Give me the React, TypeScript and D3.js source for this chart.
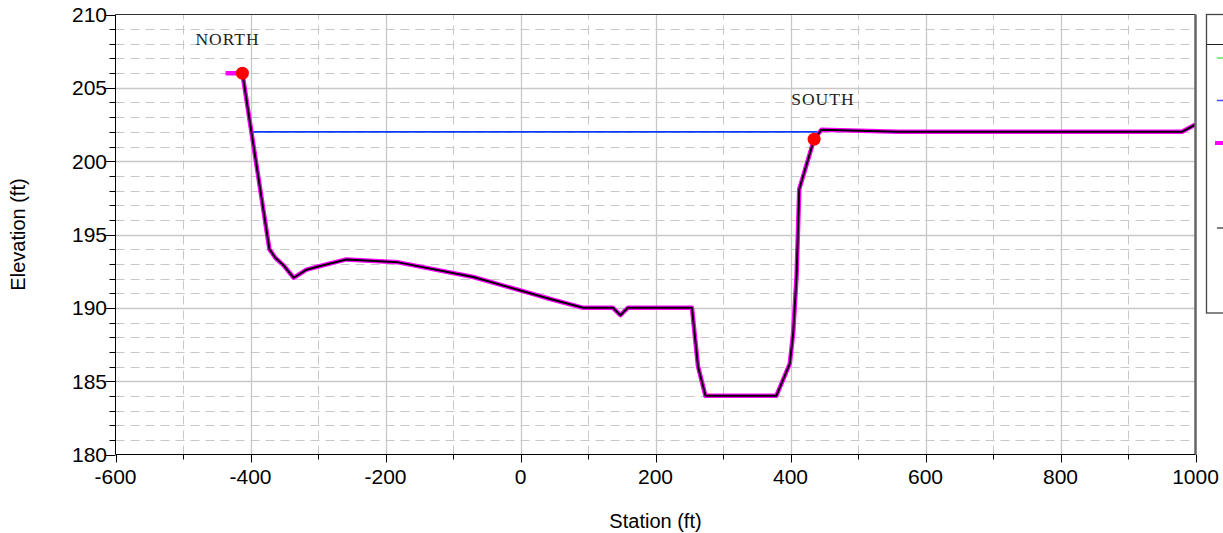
import React from 'react';
import * as d3 from 'd3';

// Ground profile (station ft, elevation ft)
const groundStations = [-437, -412, -372, -363, -351, -336, -317, -301, -258, -181, -70, 14, 44, 93, 137, 148, 159, 254, 263, 274, 379, 399, 404, 409, 413, 435, 446, 560, 980, 1000];
const groundElevations = [206, 206, 194, 193.4, 192.9, 192.05, 192.6, 192.8, 193.3, 193.1, 192.1, 191.0, 190.6, 190, 190, 189.5, 190, 190, 186, 184, 184, 186.2, 188.3, 192.2, 198.1, 201.5, 202.15, 202.0, 202.0, 202.5];

// Water surface
const wsStations = [-399, 440];
const wsElevations = [202, 202];

// Bank stations
const bankStations = [-412, 435];
const bankElevations = [206, 201.5];

// Text annotations
const sectionLabels = ['NORTH', 'SOUTH'];
const sectionLabelStations = [-434, 448];
const sectionLabelElevations = [207.95, 203.8];

// Axes
const xTicks = [-600, -400, -200, 0, 200, 400, 600, 800, 1000];
const yTicks = [180, 185, 190, 195, 200, 205, 210];
const xTitle = 'Station (ft)';
const yTitle = 'Elevation (ft)';

// Legend (visible part only)
const legendColors = ['#33dd33', '#4a4aff', '#ff00ff', '#555555'];
const legendSlots = [0, 1, 2, 4];
const legendWidths = [1.2, 1.5, 4, 1.5];

const SANS = '"Liberation Sans", Arial, sans-serif';
const SERIF = '"Liberation Serif", "Times New Roman", serif';

export default function App() {
  const W = 1223, H = 533;
  const L = 115.5, R = 1195.5, T = 14.5, B = 454.5;
  const x = d3.scaleLinear().domain([-600, 1000]).range([L, R]);
  const y = d3.scaleLinear().domain([180, 210]).range([B, T]);

  const groundPts: [number, number][] = groundStations.map((s, i) => [s, groundElevations[i]]);
  const wsPts: [number, number][] = wsStations.map((s, i) => [s, wsElevations[i]]);
  const line = d3.line<[number, number]>().x(d => x(d[0])).y(d => y(d[1]));

  const minorX = d3.range(-600, 1001, 100).filter(v => Math.abs(v % 200) !== 0);
  const majorX = xTicks.filter(v => v !== -600 && v !== 1000);
  const minorY = d3.range(180, 211, 1).filter(v => v % 5 !== 0);
  const majorY = yTicks.filter(v => v !== 180 && v !== 210);

  const grid = '#c8c8c8';

  return (
    <svg width={W} height={H} style={{ position: 'absolute', left: 0, top: 0, background: '#fff' }}>
      <defs>
        <clipPath id="plotClip">
          <rect x={L} y={T} width={R - L} height={B - T} />
        </clipPath>
      </defs>
      <rect x={0} y={0} width={W} height={H} fill="#fff" />

      {/* minor grid */}
      {minorY.map(v => (
        <line key={'my' + v} x1={L} x2={R} y1={Math.round(y(v)) + 0.5} y2={Math.round(y(v)) + 0.5}
          stroke={grid} strokeWidth={1} strokeDasharray="9,6" />
      ))}
      {minorX.map(v => (
        <line key={'mx' + v} x1={Math.round(x(v)) + 0.5} x2={Math.round(x(v)) + 0.5} y1={B} y2={T}
          stroke={grid} strokeWidth={1} strokeDasharray="9,6" />
      ))}
      {/* major grid */}
      {majorY.map(v => (
        <line key={'gy' + v} x1={L} x2={R} y1={Math.round(y(v)) + 0.5} y2={Math.round(y(v)) + 0.5}
          stroke={grid} strokeWidth={1.3} />
      ))}
      {majorX.map(v => (
        <line key={'gx' + v} x1={Math.round(x(v)) + 0.5} x2={Math.round(x(v)) + 0.5} y1={B} y2={T}
          stroke={grid} strokeWidth={1.3} />
      ))}

      <g clipPath="url(#plotClip)">
        <path d={line(wsPts) || ''} fill="none" stroke="#0a3cff" strokeWidth={1.6} />
        <path d={line(groundPts) || ''} fill="none" stroke="#ff00ff" strokeWidth={4.5} strokeLinejoin="round" />
        <path d={line(groundPts.slice(1)) || ''} fill="none" stroke="#000" strokeWidth={2} strokeLinejoin="round" />
        {bankStations.map((s, i) => (
          <circle key={'b' + i} cx={x(s)} cy={y(bankElevations[i])} r={6.5} fill="#ff0000" />
        ))}
      </g>

      {sectionLabels.map((t, i) => (
        <text key={t} x={x(sectionLabelStations[i])} y={y(sectionLabelElevations[i])} textAnchor="middle"
          fontFamily={SERIF} fontSize={17.5} letterSpacing={1} fill="#222">{t}</text>
      ))}

      {/* frame */}
      <line x1={L} x2={R} y1={T} y2={T} stroke="#333" strokeWidth={1} />
      <line x1={R} x2={R} y1={T} y2={B} stroke="#666" strokeWidth={2.5} />
      <line x1={L} x2={L} y1={T} y2={B} stroke="#000" strokeWidth={1} />
      <line x1={L} x2={R} y1={B} y2={B} stroke="#000" strokeWidth={1} />

      {/* y ticks */}
      {d3.range(180, 211, 1).map(v => (
        <line key={'yt' + v} x1={L - (v % 5 === 0 ? 10 : 6)} x2={L} y1={Math.round(y(v)) + 0.5} y2={Math.round(y(v)) + 0.5}
          stroke="#000" strokeWidth={1} />
      ))}
      {yTicks.map(v => (
        <text key={'yl' + v} x={107} y={y(v)} dy="0.36em" textAnchor="end" fontFamily={SANS} fontSize={21} fill="#000">{v}</text>
      ))}
      {/* x ticks */}
      {d3.range(-600, 1001, 100).map(v => (
        <line key={'xt' + v} x1={Math.round(x(v)) + 0.5} x2={Math.round(x(v)) + 0.5} y1={B} y2={B + (v % 200 === 0 ? 8 : 5)}
          stroke="#000" strokeWidth={1} />
      ))}
      {xTicks.map(v => (
        <text key={'xl' + v} x={x(v)} y={484} textAnchor="middle" fontFamily={SANS} fontSize={21} fill="#000">{v}</text>
      ))}

      <text x={(L + R) / 2} y={528} textAnchor="middle" fontFamily={SANS} fontSize={20} fill="#000">{xTitle}</text>
      <text transform={`translate(25, ${(T + B) / 2}) rotate(-90)`} textAnchor="middle" fontFamily={SANS} fontSize={20} fill="#000">{yTitle}</text>

      {/* legend box (partially visible) */}
      <rect x={1206.5} y={14.5} width={40} height={298.5} fill="#fff" stroke="#444" strokeWidth={1.3} />
      <line x1={1206.5} x2={1246} y1={44.5} y2={44.5} stroke="#222" strokeWidth={1} />
      {legendColors.map((c, i) => (
        <line key={'lg' + i} x1={i === 2 ? 1215 : 1217} x2={1232} y1={58 + legendSlots[i] * 42.5} y2={58 + legendSlots[i] * 42.5}
          stroke={c} strokeWidth={legendWidths[i]} />
      ))}
    </svg>
  );
}
